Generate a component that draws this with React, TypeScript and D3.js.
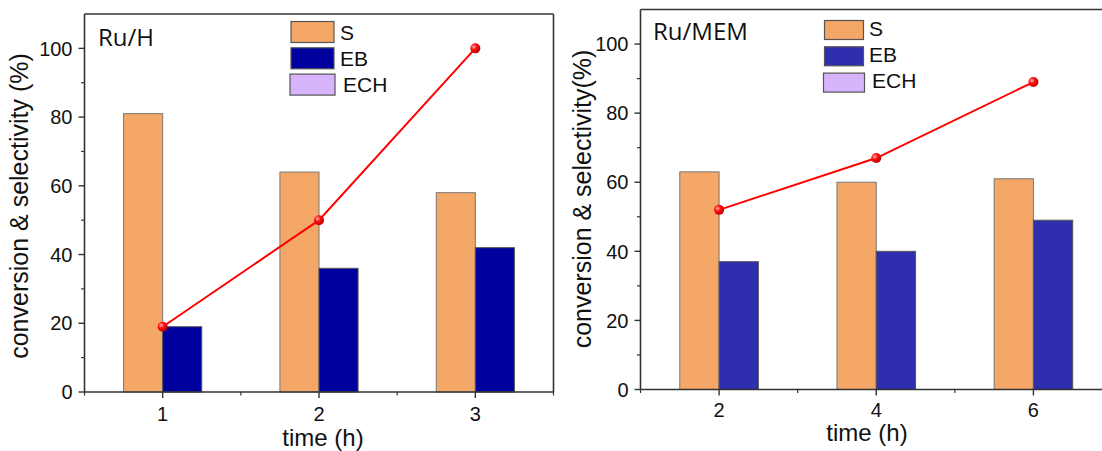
import React from 'react';
import * as d3 from 'd3';

const leftTimes = [1, 2, 3];
const leftS = [81, 64, 58];
const leftEB = [19, 36, 42];
const leftConv = [19, 50, 100];

const rightTimes = [2, 4, 6];
const rightS = [63, 60, 61];
const rightEB = [37, 40, 49];
const rightConv = [52, 67, 89];

const yMajorTicks = [0, 20, 40, 60, 80, 100];
const yMinorTicks = [10, 30, 50, 70, 90];
const legendLabels = ['S', 'EB', 'ECH'];

const FONT = '"Liberation Sans", Arial, sans-serif';
const LABEL_FONT = '"Open Sans", "Liberation Sans", sans-serif';
const AXIS = '#333';

type PanelProps = {
  times: number[];
  s: number[];
  eb: number[];
  conv: number[];
  xDomain: [number, number];
  xRange: [number, number];
  yRange: [number, number];
  barHalf: number;
  ebColor: string;
  label: string;
  labelX: number;
  labelY: number;
  labelSize: number;
  yTitle: string;
  yTitleX: number;
  yTitleY: number;
  xTitleX: number;
  xTitleY: number;
  tickLabelDy: number;
  legend: { x: number; y: number; w: number; h: number; gap: number; tx: number; ty: number };
  gradId: string;
};

function Panel(p: PanelProps) {
  const x = d3.scaleLinear().domain(p.xDomain).range(p.xRange);
  const y = d3.scaleLinear().domain([0, 110]).range(p.yRange);
  const step = p.times[1] - p.times[0];
  const xMinor = [p.xDomain[0], ...p.times.slice(0, -1).map((t) => t + step / 2), p.xDomain[1]];
  const line = d3
    .line<number>()
    .x((_, i) => x(p.times[i]))
    .y((d) => y(d));
  const [x0, x1] = p.xRange;
  const [yb, yt] = p.yRange;
  const legendFills = ['#F4A766', p.ebColor, '#D8B4FC'];
  return (
    <g>
      {p.times.map((t, i) => (
        <g key={'b' + t}>
          <rect
            x={x(t - p.barHalf)}
            y={y(p.s[i])}
            width={x(t) - x(t - p.barHalf)}
            height={y(0) - y(p.s[i])}
            fill="#F4A766"
            stroke="#777"
            strokeWidth={1}
          />
          <rect
            x={x(t)}
            y={y(p.eb[i])}
            width={x(t + p.barHalf) - x(t)}
            height={y(0) - y(p.eb[i])}
            fill={p.ebColor}
            stroke="#555"
            strokeWidth={1}
          />
        </g>
      ))}
      <line x1={x0} x2={x0} y1={yb} y2={yt} stroke={AXIS} strokeWidth={1.6} />
      <line x1={x0} x2={x1} y1={yb} y2={yb} stroke={AXIS} strokeWidth={1.6} />
      <line x1={x0} x2={x1} y1={yt} y2={yt} stroke={AXIS} strokeWidth={1.6} />
      <line x1={x1} x2={x1} y1={yb} y2={yt} stroke={AXIS} strokeWidth={1.6} />
      {yMajorTicks.map((v) => (
        <g key={'y' + v}>
          <line x1={x0 - 6} x2={x0} y1={y(v)} y2={y(v)} stroke={AXIS} strokeWidth={1.4} />
          <text x={x0 - 12} y={y(v)} dy="0.36em" textAnchor="end" fontFamily={FONT} fontSize={20} fill="#111">
            {v}
          </text>
        </g>
      ))}
      {yMinorTicks.map((v) => (
        <line key={'ym' + v} x1={x0 - 3.5} x2={x0} y1={y(v)} y2={y(v)} stroke={AXIS} strokeWidth={1.2} />
      ))}
      {p.times.map((t) => (
        <g key={'x' + t}>
          <line x1={x(t)} x2={x(t)} y1={yb} y2={yb + 6} stroke={AXIS} strokeWidth={1.4} />
          <text x={x(t)} y={yb + p.tickLabelDy} textAnchor="middle" fontFamily={FONT} fontSize={20} fill="#111">
            {t}
          </text>
        </g>
      ))}
      {xMinor.map((t) => (
        <line key={'xm' + t} x1={x(t)} x2={x(t)} y1={yb} y2={yb + 3.5} stroke={AXIS} strokeWidth={1.2} />
      ))}
      <text x={p.xTitleX} y={p.xTitleY} textAnchor="middle" fontFamily={FONT} fontSize={24} fill="#111">
        time (h)
      </text>
      <text
        transform={`translate(${p.yTitleX},${p.yTitleY}) rotate(-90)`}
        textAnchor="middle"
        fontFamily={FONT}
        fontSize={25}
        fill="#111"
      >
        {p.yTitle}
      </text>
      <text x={p.labelX} y={p.labelY} fontFamily={LABEL_FONT} fontSize={p.labelSize} fill="#111">
        {p.label}
      </text>
      {legendLabels.map((lab, i) => (
        <g key={'lg' + lab}>
          <rect
            x={p.legend.x - (i === 2 ? 1 : 0)}
            y={p.legend.y + i * p.legend.gap}
            width={p.legend.w + (i === 2 ? 2 : 0)}
            height={p.legend.h}
            fill={legendFills[i]}
            stroke="#555"
            strokeWidth={1.2}
          />
          <text
            x={p.legend.tx + (i === 2 ? 3 : 0)}
            y={p.legend.ty + i * p.legend.gap}
            fontFamily={FONT}
            fontSize={21}
            fill="#111"
          >
            {lab}
          </text>
        </g>
      ))}
      <path d={line(p.conv) || ''} fill="none" stroke="#FF0000" strokeWidth={2} />
      {p.conv.map((v, i) => (
        <circle key={'c' + i} cx={x(p.times[i])} cy={y(v)} r={5} fill={`url(#${p.gradId})`} />
      ))}
    </g>
  );
}

export default function App() {
  return (
    <svg
      width={1102}
      height={451}
      viewBox="0 0 1102 451"
      style={{ position: 'absolute', left: 0, top: 0, background: '#fff', display: 'block' }}
    >
      <defs>
        <radialGradient id="ball" cx="35%" cy="35%" r="65%">
          <stop offset="0%" stopColor="#FFB0B0" />
          <stop offset="45%" stopColor="#FF1010" />
          <stop offset="100%" stopColor="#C00000" />
        </radialGradient>
        <clipPath id="pageclip">
          <rect x={0} y={0} width={1102} height={451} />
        </clipPath>
      </defs>
      <rect x={0} y={0} width={1102} height={451} fill="#fff" />
      <g clipPath="url(#pageclip)">
        <Panel
          times={leftTimes}
          s={leftS}
          eb={leftEB}
          conv={leftConv}
          xDomain={[0.5, 3.5]}
          xRange={[84.5, 553.5]}
          yRange={[392, 14]}
          barHalf={0.25}
          ebColor="#00009F"
          label="Ru/H"
          labelX={98}
          labelY={46}
          labelSize={24}
          yTitle="conversion & selectivity (%)"
          yTitleX={28}
          yTitleY={206}
          xTitleX={323}
          xTitleY={446}
          tickLabelDy={29}
          legend={{ x: 291, y: 21.5, w: 43, h: 21, gap: 26.3, tx: 340, ty: 39.5 }}
          gradId="ball"
        />
        <Panel
          times={rightTimes}
          s={rightS}
          eb={rightEB}
          conv={rightConv}
          xDomain={[1, 7]}
          xRange={[640.5, 1112]}
          yRange={[389.5, 9.5]}
          barHalf={0.5}
          ebColor="#2E2EAE"
          label="Ru/MEM"
          labelX={653}
          labelY={40}
          labelSize={24}
          yTitle="conversion & selectivity(%)"
          yTitleX={591}
          yTitleY={199}
          xTitleX={867}
          xTitleY={441}
          tickLabelDy={27}
          legend={{ x: 824.5, y: 20.5, w: 39, h: 19, gap: 26.3, tx: 869, ty: 35.5 }}
          gradId="ball"
        />
      </g>
    </svg>
  );
}
